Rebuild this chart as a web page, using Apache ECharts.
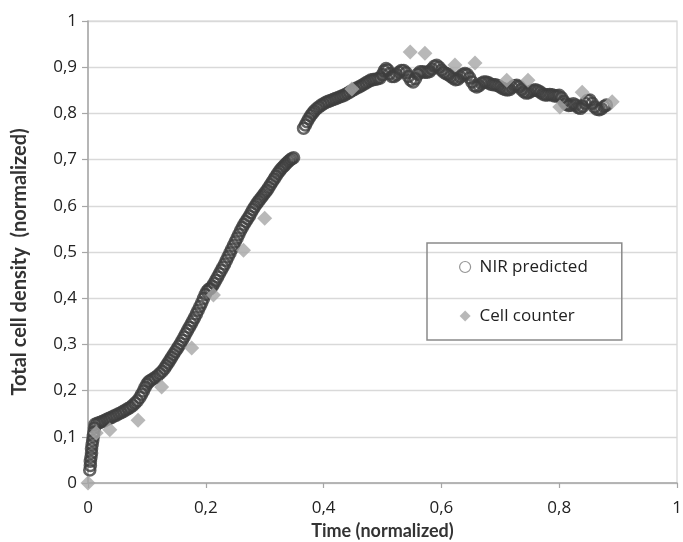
<!DOCTYPE html>
<html>
<head>
<meta charset="utf-8">
<script src="https://cdn.jsdelivr.net/npm/echarts@6/dist/echarts.min.js"></script>
<style>
  html, body { margin: 0; padding: 0; background: #ffffff; }
  #chart { width: 683px; height: 542px; }
</style>
</head>
<body>
<div id="chart"></div>
<script>
// NIR-predicted total cell density (normalized) against normalized time
var nirTime = [
  0.003, 0.004, 0.004, 0.005, 0.006, 0.006, 0.007, 0.008, 0.009, 0.010, 0.011,
  0.012, 0.016, 0.020, 0.024, 0.028, 0.032, 0.036, 0.040, 0.044, 0.048,
  0.052, 0.056, 0.060, 0.064, 0.068, 0.072, 0.076, 0.080, 0.084, 0.088,
  0.091, 0.094, 0.097, 0.100, 0.103, 0.106, 0.110, 0.114, 0.118, 0.122,
  0.126, 0.130, 0.133, 0.136, 0.139, 0.142, 0.145, 0.148, 0.151, 0.154,
  0.157, 0.160, 0.163, 0.166, 0.169, 0.172, 0.175, 0.178, 0.181, 0.184,
  0.187, 0.190, 0.193, 0.196, 0.199, 0.202, 0.205, 0.208, 0.211, 0.214,
  0.217, 0.220, 0.223, 0.226, 0.229, 0.232, 0.235, 0.238, 0.241, 0.244,
  0.247, 0.250, 0.253, 0.256, 0.259, 0.262, 0.265, 0.268, 0.271, 0.274,
  0.277, 0.280, 0.283, 0.286, 0.289, 0.292, 0.295, 0.298, 0.301, 0.304,
  0.307, 0.310, 0.313, 0.316, 0.319, 0.322, 0.325, 0.328, 0.331, 0.334,
  0.337, 0.340, 0.343, 0.346, 0.349,
  0.366, 0.369, 0.372, 0.375, 0.378, 0.381, 0.384, 0.388, 0.392, 0.396,
  0.400, 0.404, 0.408, 0.412, 0.416, 0.420, 0.424, 0.428, 0.432, 0.436,
  0.440, 0.444, 0.448, 0.452, 0.456, 0.460, 0.464, 0.468, 0.472, 0.476,
  0.480, 0.484, 0.488, 0.492, 0.496, 0.500, 0.503, 0.506, 0.509, 0.512,
  0.516, 0.520, 0.524, 0.528, 0.532, 0.536, 0.540, 0.544, 0.548, 0.552,
  0.556, 0.560, 0.564, 0.568, 0.572, 0.576, 0.580, 0.584, 0.588, 0.592,
  0.596, 0.600, 0.604, 0.608, 0.612, 0.616, 0.620, 0.624, 0.628, 0.632,
  0.636, 0.640, 0.644, 0.648, 0.652, 0.656, 0.660, 0.664, 0.668, 0.672,
  0.676, 0.680, 0.684, 0.688, 0.692, 0.696, 0.700, 0.704, 0.708, 0.712,
  0.716, 0.720, 0.724, 0.728, 0.732, 0.736, 0.740, 0.744, 0.748, 0.752,
  0.756, 0.760, 0.764, 0.768, 0.772, 0.776, 0.780, 0.784, 0.788, 0.792,
  0.796, 0.800, 0.804, 0.808, 0.812, 0.816, 0.820, 0.824, 0.828, 0.832,
  0.836, 0.840, 0.844, 0.848, 0.852, 0.856, 0.860, 0.864, 0.868, 0.872,
  0.876, 0.880
];
var nirDensity = [
  0.028, 0.038, 0.047, 0.056, 0.065, 0.074, 0.083, 0.092, 0.101, 0.110, 0.119,
  0.127, 0.129, 0.131, 0.133, 0.135, 0.138, 0.140, 0.142, 0.145, 0.147,
  0.150, 0.152, 0.155, 0.158, 0.161, 0.164, 0.168, 0.173, 0.178, 0.185,
  0.192, 0.199, 0.207, 0.214, 0.219, 0.222, 0.225, 0.228, 0.232, 0.237,
  0.242, 0.248, 0.254, 0.260, 0.266, 0.272, 0.278, 0.284, 0.290, 0.296,
  0.302, 0.309, 0.316, 0.323, 0.330, 0.337, 0.344, 0.351, 0.358, 0.366,
  0.374, 0.382, 0.390, 0.399, 0.408, 0.415, 0.419, 0.421, 0.426, 0.432,
  0.439, 0.446, 0.453, 0.460, 0.467, 0.474, 0.482, 0.490, 0.498, 0.506,
  0.514, 0.522, 0.530, 0.538, 0.546, 0.553, 0.560, 0.566, 0.572, 0.578,
  0.585, 0.592, 0.598, 0.604, 0.609, 0.614, 0.619, 0.624, 0.629, 0.634,
  0.640, 0.646, 0.652, 0.658, 0.664, 0.670, 0.675, 0.680, 0.684, 0.688,
  0.692, 0.696, 0.699, 0.702, 0.704,
  0.768, 0.775, 0.782, 0.789, 0.795, 0.800, 0.805, 0.810, 0.814, 0.818,
  0.821, 0.824, 0.826, 0.828, 0.830, 0.832, 0.834, 0.836, 0.838, 0.840,
  0.843, 0.846, 0.849, 0.852, 0.855, 0.857, 0.860, 0.863, 0.866, 0.869,
  0.872, 0.873, 0.874, 0.875, 0.877, 0.884, 0.892, 0.897, 0.894, 0.886,
  0.880, 0.880, 0.884, 0.889, 0.893, 0.893, 0.888, 0.880, 0.872, 0.868,
  0.875, 0.885, 0.890, 0.890, 0.889, 0.889, 0.891, 0.896, 0.902, 0.904,
  0.900, 0.894, 0.889, 0.886, 0.884, 0.880, 0.876, 0.873, 0.874, 0.879,
  0.884, 0.886, 0.884, 0.877, 0.868, 0.860, 0.857, 0.860, 0.865, 0.868,
  0.868, 0.866, 0.863, 0.862, 0.862, 0.860, 0.857, 0.854, 0.852, 0.851,
  0.852, 0.856, 0.860, 0.861, 0.858, 0.852, 0.847, 0.844, 0.845, 0.848,
  0.850, 0.851, 0.849, 0.846, 0.842, 0.840, 0.840, 0.841, 0.840, 0.838,
  0.838, 0.839, 0.834, 0.826, 0.820, 0.817, 0.818, 0.821, 0.818, 0.813,
  0.811, 0.815, 0.822, 0.828, 0.829, 0.822, 0.814, 0.809, 0.808, 0.810,
  0.815, 0.818
];

// Cell counter reference measurements
var counterTime = [
  0.000, 0.014, 0.037, 0.085, 0.125, 0.176, 0.213, 0.264, 0.300,
  0.448, 0.547, 0.572, 0.623, 0.657, 0.711, 0.747, 0.801, 0.839, 0.890
];
var counterDensity = [
  0.000, 0.108, 0.115, 0.136, 0.208, 0.292, 0.407, 0.504, 0.573,
  0.853, 0.933, 0.930, 0.905, 0.909, 0.872, 0.872, 0.814, 0.846, 0.825
];

// Axis tick labels (decimal comma)
var xTickLabels = ['0', '0,2', '0,4', '0,6', '0,8', '1'];
var yTickLabels = ['0', '0,1', '0,2', '0,3', '0,4', '0,5', '0,6', '0,7', '0,8', '0,9', '1'];

var seriesNames = ['NIR predicted', 'Cell counter'];
var xAxisTitle = 'Time (normalized)';
var yAxisTitle = 'Total cell density  (normalized)';

function pairs(xs, ys) {
  return xs.map(function (x, i) { return [x, ys[i]]; });
}

var FONT = '"Open Sans", Lato, sans-serif';
var TITLE_FONT = 'Lato, "Open Sans", sans-serif';

var chart = echarts.init(document.getElementById('chart'));
chart.setOption({
  animation: false,
  backgroundColor: '#ffffff',
  grid: {
    left: 88, right: 6, top: 21, bottom: 59,
    outerBoundsMode: 'none',
    containLabel: false,
    show: true, borderColor: '#d4d4d4', borderWidth: 1.2
  },
  xAxis: {
    type: 'value', min: 0, max: 1, interval: 0.2,
    name: xAxisTitle, nameLocation: 'middle', nameGap: 36,
    nameTextStyle: { fontFamily: TITLE_FONT, fontSize: 18, fontWeight: 'bold', color: '#333' },
    axisLine: { show: true, lineStyle: { color: '#a6a6a6', width: 1.5 } },
    axisTick: { show: true, length: 5, lineStyle: { color: '#a6a6a6', width: 1.2 } },
    splitLine: { show: false },
    axisLabel: {
      fontFamily: FONT, fontSize: 17, color: '#222', margin: 17,
      formatter: function (v) { return xTickLabels[Math.round(v * 5)]; }
    }
  },
  yAxis: {
    type: 'value', min: 0, max: 1, interval: 0.1,
    name: yAxisTitle, nameLocation: 'middle', nameGap: 58, nameRotate: 90,
    nameTextStyle: { fontFamily: TITLE_FONT, fontSize: 20, fontWeight: 'bold', color: '#333',
      padding: [0, 20, 0, 0] },
    axisLine: { show: true, lineStyle: { color: '#a6a6a6', width: 1.5 } },
    axisTick: { show: true, length: 6, lineStyle: { color: '#a6a6a6', width: 1.2 } },
    splitLine: { show: true, lineStyle: { color: '#d9d9d9', width: 1.3 } },
    axisLabel: {
      fontFamily: FONT, fontSize: 17, color: '#222', margin: 11,
      formatter: function (v) { return yTickLabels[Math.round(v * 10)]; }
    }
  },
  legend: {
    orient: 'vertical',
    left: 427, top: 243,
    padding: [14, 34, 14, 32],
    itemGap: 29,
    itemWidth: 11, itemHeight: 11,
    borderColor: '#8a8a8a', borderWidth: 1.5,
    textStyle: { fontFamily: FONT, fontSize: 17, color: '#222', lineHeight: 20, padding: [0, 0, 0, 4] },
    data: [
      { name: seriesNames[0], icon: 'circle',
        itemStyle: { color: '#ffffff', borderColor: '#7a7a7a', borderWidth: 1.2 } },
      { name: seriesNames[1], icon: 'diamond',
        itemStyle: { color: '#a6a6a6' } }
    ]
  },
  series: [
    {
      name: seriesNames[0],
      type: 'scatter',
      symbol: 'circle',
      symbolSize: 11,
      itemStyle: { color: 'rgba(255,255,255,0)', borderColor: '#3d3d3d', borderWidth: 2.6 },
      data: pairs(nirTime, nirDensity)
    },
    {
      name: seriesNames[1],
      type: 'scatter',
      symbol: 'diamond',
      symbolSize: 15,
      itemStyle: { color: '#a6a6a6' },
      data: pairs(counterTime, counterDensity)
    }
  ]
});
</script>
</body>
</html>
